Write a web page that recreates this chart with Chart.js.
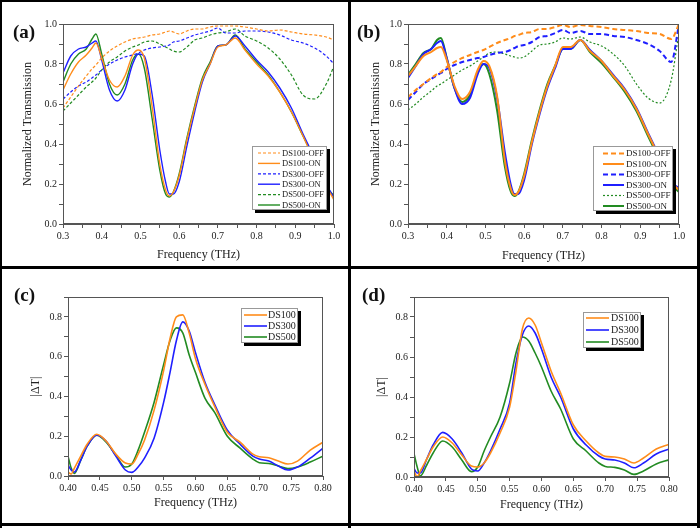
<!DOCTYPE html>
<html>
<head>
<meta charset="utf-8">
<script src="https://cdn.jsdelivr.net/npm/chart.js@4"></script>
<style>
  body { margin: 0; background: #fff; }
  #fig { position: relative; width: 700px; height: 528px; overflow: hidden; font-family: "Liberation Serif", serif; }
  #fig canvas { position: absolute; }
  .tag { position: absolute; font-weight: bold; font-size: 19px; line-height: 1; color: #111; }
  .rule { position: absolute; background: #000; z-index: 5; }
</style>
</head>
<body>
<div id="fig">
  <canvas id="cA" width="350" height="264" style="left:0;top:0"></canvas>
  <canvas id="cB" width="350" height="264" style="left:350px;top:0"></canvas>
  <canvas id="cC" width="350" height="264" style="left:0;top:264px"></canvas>
  <canvas id="cD" width="350" height="264" style="left:350px;top:264px"></canvas>
  <div class="tag" style="left:13px;top:22px">(a)</div>
  <div class="tag" style="left:357px;top:22px">(b)</div>
  <div class="tag" style="left:14px;top:285px">(c)</div>
  <div class="tag" style="left:362px;top:285px">(d)</div>
  <div class="rule" style="left:0;top:0;width:700px;height:2px"></div>
  <div class="rule" style="left:0;top:0;width:2px;height:528px"></div>
  <div class="rule" style="left:697px;top:0;width:3px;height:528px"></div>
  <div class="rule" style="left:0;top:523px;width:700px;height:3px"></div>
  <div class="rule" style="left:348px;top:0;width:3px;height:528px"></div>
  <div class="rule" style="left:0;top:266px;width:700px;height:3px"></div>
</div>
<script>
// 周波数 (THz) : (a)(b) 共通
const freqAB = [0.30, 0.32, 0.34, 0.36, 0.375, 0.385, 0.40, 0.42, 0.44, 0.46, 0.48, 0.495, 0.51, 0.53, 0.55, 0.565, 0.575, 0.585,
  0.60, 0.62, 0.64, 0.66, 0.68, 0.70, 0.72, 0.745, 0.77, 0.80, 0.83, 0.86, 0.89, 0.92, 0.95, 0.98, 1.00];

// (a) 透過率
const a_ds100_off = [0.58, 0.635, 0.69, 0.74, 0.775, 0.795, 0.83, 0.865, 0.89, 0.91, 0.925, 0.93, 0.935, 0.945, 0.95, 0.96, 0.965, 0.96,
  0.95, 0.965, 0.975, 0.975, 0.985, 0.99, 0.99, 0.99, 0.985, 0.975, 0.965, 0.97, 0.96, 0.95, 0.945, 0.935, 0.92];
const a_ds100_on = [0.67, 0.75, 0.81, 0.845, 0.88, 0.905, 0.83, 0.72, 0.685, 0.74, 0.845, 0.87, 0.83, 0.59, 0.30, 0.17, 0.14, 0.16,
  0.24, 0.42, 0.58, 0.72, 0.80, 0.885, 0.895, 0.93, 0.87, 0.80, 0.74, 0.66, 0.56, 0.44, 0.31, 0.19, 0.12];
const a_ds300_off = [0.625, 0.66, 0.69, 0.71, 0.73, 0.745, 0.77, 0.80, 0.82, 0.835, 0.845, 0.855, 0.87, 0.88, 0.885, 0.89, 0.895, 0.91,
  0.915, 0.93, 0.945, 0.955, 0.965, 0.98, 0.955, 0.955, 0.965, 0.965, 0.96, 0.945, 0.92, 0.905, 0.88, 0.84, 0.80];
const a_ds300_on = [0.755, 0.84, 0.875, 0.885, 0.905, 0.915, 0.82, 0.67, 0.615, 0.67, 0.80, 0.85, 0.84, 0.65, 0.37, 0.21, 0.15, 0.15,
  0.21, 0.39, 0.56, 0.71, 0.80, 0.89, 0.895, 0.94, 0.89, 0.82, 0.76, 0.68, 0.58, 0.45, 0.33, 0.20, 0.13];
const a_ds500_off = [0.565, 0.605, 0.645, 0.685, 0.71, 0.73, 0.77, 0.81, 0.835, 0.865, 0.885, 0.895, 0.91, 0.915, 0.90, 0.885, 0.875, 0.865,
  0.86, 0.885, 0.92, 0.93, 0.945, 0.955, 0.96, 0.975, 0.94, 0.915, 0.88, 0.825, 0.745, 0.645, 0.625, 0.70, 0.79];
const a_ds500_on = [0.71, 0.80, 0.85, 0.875, 0.925, 0.95, 0.85, 0.70, 0.645, 0.70, 0.82, 0.85, 0.78, 0.53, 0.27, 0.15, 0.135, 0.16,
  0.25, 0.43, 0.59, 0.73, 0.81, 0.89, 0.895, 0.945, 0.875, 0.81, 0.745, 0.66, 0.56, 0.44, 0.32, 0.19, 0.14];

// (b) 透過率
const b_ds100_off = [0.635, 0.67, 0.70, 0.73, 0.75, 0.76, 0.785, 0.81, 0.83, 0.845, 0.86, 0.87, 0.885, 0.905, 0.92, 0.93, 0.94, 0.945,
  0.955, 0.96, 0.975, 0.975, 0.985, 0.995, 0.985, 0.995, 0.99, 0.985, 0.975, 0.97, 0.965, 0.955, 0.95, 0.925, 1.0];
const b_ds100_on = [0.74, 0.79, 0.84, 0.86, 0.88, 0.885, 0.82, 0.69, 0.625, 0.66, 0.77, 0.815, 0.79, 0.64, 0.32, 0.18, 0.145, 0.16,
  0.24, 0.41, 0.56, 0.69, 0.79, 0.885, 0.885, 0.92, 0.865, 0.815, 0.74, 0.67, 0.575, 0.45, 0.33, 0.21, 0.17];
const b_ds300_off = [0.62, 0.66, 0.70, 0.725, 0.745, 0.755, 0.775, 0.795, 0.81, 0.82, 0.83, 0.835, 0.845, 0.855, 0.86, 0.87, 0.88, 0.89,
  0.895, 0.91, 0.935, 0.94, 0.955, 0.97, 0.955, 0.965, 0.95, 0.95, 0.94, 0.935, 0.92, 0.90, 0.865, 0.81, 1.0];
const b_ds300_on = [0.73, 0.79, 0.85, 0.875, 0.905, 0.915, 0.83, 0.68, 0.60, 0.63, 0.75, 0.80, 0.78, 0.63, 0.36, 0.20, 0.15, 0.15,
  0.22, 0.40, 0.55, 0.68, 0.78, 0.875, 0.875, 0.92, 0.87, 0.815, 0.745, 0.675, 0.58, 0.455, 0.335, 0.21, 0.18];
const b_ds500_off = [0.57, 0.60, 0.635, 0.665, 0.69, 0.70, 0.72, 0.745, 0.77, 0.79, 0.815, 0.835, 0.855, 0.86, 0.85, 0.84, 0.835, 0.83,
  0.835, 0.865, 0.895, 0.90, 0.91, 0.93, 0.925, 0.935, 0.91, 0.89, 0.85, 0.79, 0.70, 0.63, 0.605, 0.72, 0.96];
const b_ds500_on = [0.745, 0.80, 0.855, 0.875, 0.92, 0.93, 0.83, 0.68, 0.61, 0.645, 0.76, 0.80, 0.75, 0.57, 0.29, 0.165, 0.14, 0.16,
  0.25, 0.42, 0.57, 0.70, 0.79, 0.875, 0.875, 0.92, 0.86, 0.805, 0.735, 0.66, 0.565, 0.44, 0.32, 0.20, 0.16];

// 周波数 (THz) : (c)(d) 共通
const freqCD = [0.40, 0.405, 0.41, 0.42, 0.43, 0.445, 0.46, 0.475, 0.49, 0.50, 0.51, 0.52, 0.535, 0.55, 0.56, 0.57, 0.58, 0.59,
  0.60, 0.615, 0.63, 0.65, 0.67, 0.69, 0.70, 0.715, 0.73, 0.745, 0.76, 0.78, 0.80];

// (c) |ΔT|
const c_ds100 = [0.02, 0.01, 0.04, 0.10, 0.16, 0.21, 0.175, 0.11, 0.065, 0.06, 0.11, 0.18, 0.33, 0.53, 0.69, 0.80, 0.81, 0.72,
  0.59, 0.46, 0.35, 0.22, 0.17, 0.11, 0.097, 0.092, 0.075, 0.06, 0.075, 0.13, 0.17];
const c_ds300 = [0.055, 0.03, 0.02, 0.08, 0.15, 0.205, 0.175, 0.10, 0.03, 0.018, 0.045, 0.09, 0.19, 0.37, 0.52, 0.68, 0.775, 0.73,
  0.62, 0.47, 0.36, 0.23, 0.16, 0.10, 0.085, 0.075, 0.05, 0.03, 0.045, 0.09, 0.14];
const c_ds500 = [0.10, 0.04, 0.013, 0.08, 0.15, 0.205, 0.17, 0.105, 0.045, 0.06, 0.13, 0.22, 0.37, 0.56, 0.68, 0.745, 0.72, 0.61,
  0.52, 0.39, 0.32, 0.20, 0.14, 0.085, 0.067, 0.063, 0.05, 0.037, 0.045, 0.07, 0.10];

// (d) |ΔT|
const d_ds100 = [0.027, 0.002, 0.03, 0.09, 0.15, 0.20, 0.17, 0.11, 0.055, 0.05, 0.07, 0.12, 0.22, 0.35, 0.53, 0.74, 0.795, 0.76,
  0.67, 0.53, 0.42, 0.26, 0.18, 0.12, 0.103, 0.10, 0.09, 0.07, 0.095, 0.14, 0.163];
const d_ds300 = [0.043, 0.02, 0.02, 0.09, 0.16, 0.223, 0.19, 0.12, 0.04, 0.03, 0.07, 0.13, 0.24, 0.37, 0.57, 0.71, 0.755, 0.72,
  0.64, 0.50, 0.40, 0.24, 0.16, 0.105, 0.09, 0.085, 0.07, 0.046, 0.07, 0.115, 0.14];
const d_ds500 = [0.118, 0.05, 0.006, 0.06, 0.12, 0.18, 0.15, 0.085, 0.027, 0.05, 0.13, 0.20, 0.30, 0.47, 0.62, 0.70, 0.68, 0.62,
  0.55, 0.43, 0.34, 0.19, 0.13, 0.07, 0.053, 0.048, 0.035, 0.013, 0.03, 0.065, 0.086];

const ORANGE = '#ff8c1a';
const BLUE = '#1f1fff';
const GREEN = '#228b22';

Chart.defaults.font.family = '"Liberation Serif", "Times New Roman", serif';
Chart.defaults.color = '#222';

// 枠線とプロット内の凡例（影付き）
const frameLegend = {
  id: 'frameLegend',
  afterDraw(chart, args, o) {
    const { ctx, chartArea: a } = chart;
    ctx.save();
    ctx.strokeStyle = '#555';
    ctx.lineWidth = 1;
    ctx.strokeRect(a.left + 0.5, a.top + 0.5, a.right - a.left - 1, a.bottom - a.top - 1);

    const bx = a.right - o.right - o.width;
    const by = o.top != null ? a.top + o.top : a.bottom - o.bottom - o.height;
    ctx.fillStyle = '#000';
    ctx.fillRect(bx + 3, by + 3, o.width, o.height);
    ctx.fillStyle = '#fff';
    ctx.fillRect(bx, by, o.width, o.height);
    ctx.strokeStyle = '#999';
    ctx.strokeRect(bx + 0.5, by + 0.5, o.width - 1, o.height - 1);
    ctx.font = o.fontSize + 'px "Liberation Serif"';
    ctx.textBaseline = 'middle';
    chart.data.datasets.forEach((ds, i) => {
      const yy = by + o.firstRow + i * o.rowGap;
      ctx.beginPath();
      ctx.setLineDash(ds.borderDash || []);
      ctx.strokeStyle = ds.borderColor;
      ctx.lineWidth = ds.borderWidth;
      ctx.moveTo(bx + o.lineFrom, yy);
      ctx.lineTo(bx + o.lineTo, yy);
      ctx.stroke();
      ctx.setLineDash([]);
      ctx.fillStyle = '#222';
      ctx.fillText(ds.label, bx + o.textX, yy + 0.5);
    });
    ctx.restore();
  }
};
Chart.register(frameLegend);

function series(label, freq, vals, color, width, dash) {
  return {
    label: label,
    data: freq.map((f, i) => ({ x: f, y: vals[i] })),
    borderColor: color,
    borderWidth: width,
    borderDash: dash || [],
    pointRadius: 0,
    fill: false,
    cubicInterpolationMode: 'monotone'
  };
}

function axisGrid() {
  return { display: true, drawOnChartArea: false, drawTicks: true, tickLength: 4, color: '#555' };
}

/**
 * 1パネル分のグラフを描画する
 */
function renderPanel(canvasId, datasets, p) {
  const ctx = document.getElementById(canvasId).getContext('2d');
  return new Chart(ctx, {
    type: 'line',
    data: { datasets: datasets },
    options: {
      responsive: false,
      animation: false,
      layout: { padding: { left: 0, top: p.top, right: p.right, bottom: 0 } },
      plugins: {
        legend: { display: false },
        tooltip: { enabled: false },
        frameLegend: p.legend
      },
      scales: {
        x: {
          type: 'linear',
          min: p.xmin, max: p.xmax,
          grid: axisGrid(),
          border: { display: true, color: '#555' },
          ticks: {
            stepSize: p.xstep, autoSkip: false, maxRotation: 0, padding: 2,
            font: { size: 10 },
            callback: (v, i) => (i % p.xevery === 0 ? v.toFixed(p.xdec) : '')
          },
          title: { display: true, text: 'Frequency (THz)', font: { size: 12 }, padding: { top: 0, bottom: p.xtitlePad } },
          afterFit: (s) => { s.height = p.xh; }
        },
        y: {
          min: p.ymin, max: p.ymax,
          grid: axisGrid(),
          border: { display: true, color: '#555' },
          ticks: {
            stepSize: 0.1, autoSkip: false, padding: 2,
            font: { size: 10 },
            callback: (v, i) => (i % 2 === 0 ? v.toFixed(1) : '')
          },
          title: { display: true, text: p.ytitle, font: { size: 12 }, padding: { top: p.ytitlePad, bottom: 0 } },
          afterFit: (s) => { s.width = p.yw; }
        }
      }
    }
  });
}

const dashA = [3, 2];

renderPanel('cA', [
  series('DS100-OFF', freqAB, a_ds100_off, ORANGE, 1.2, dashA),
  series('DS100-ON', freqAB, a_ds100_on, ORANGE, 1.4),
  series('DS300-OFF', freqAB, a_ds300_off, BLUE, 1.2, dashA),
  series('DS300-ON', freqAB, a_ds300_on, BLUE, 1.4),
  series('DS500-OFF', freqAB, a_ds500_off, GREEN, 1.2, dashA),
  series('DS500-ON', freqAB, a_ds500_on, GREEN, 1.4)
], {
  top: 24, right: 16, yw: 63, xh: 40, xtitlePad: 2, ytitlePad: 21,
  xmin: 0.3, xmax: 1.0, xstep: 0.05, xevery: 2, xdec: 1, ymin: 0, ymax: 1.0,
  ytitle: 'Normalized Transmission',
  legend: { right: 7, bottom: 14, width: 75, height: 64, firstRow: 7, rowGap: 10.4, lineFrom: 6, lineTo: 28, textX: 30, fontSize: 8.5 }
});

renderPanel('cB', [
  series('DS100-OFF', freqAB, b_ds100_off, ORANGE, 2, [5, 3]),
  series('DS100-ON', freqAB, b_ds100_on, ORANGE, 2),
  series('DS300-OFF', freqAB, b_ds300_off, BLUE, 2, [5, 3]),
  series('DS300-ON', freqAB, b_ds300_on, BLUE, 2),
  series('DS500-OFF', freqAB, b_ds500_off, GREEN, 1.2, [2, 2]),
  series('DS500-ON', freqAB, b_ds500_on, GREEN, 2)
], {
  top: 24, right: 21, yw: 58, xh: 40, xtitlePad: 1, ytitlePad: 19,
  xmin: 0.3, xmax: 1.0, xstep: 0.05, xevery: 2, xdec: 1, ymin: 0, ymax: 1.0,
  ytitle: 'Normalized Transmission',
  legend: { right: 6, bottom: 13, width: 80, height: 65, firstRow: 7.5, rowGap: 10.5, lineFrom: 10, lineTo: 31, textX: 33, fontSize: 9 }
});

renderPanel('cC', [
  series('DS100', freqCD, c_ds100, ORANGE, 1.6),
  series('DS300', freqCD, c_ds300, BLUE, 1.6),
  series('DS500', freqCD, c_ds500, GREEN, 1.6)
], {
  top: 33, right: 27, yw: 68, xh: 52, xtitlePad: 18, ytitlePad: 29,
  xmin: 0.4, xmax: 0.8, xstep: 0.05, xevery: 1, xdec: 2, ymin: 0, ymax: 0.9,
  ytitle: '|ΔT|',
  legend: { top: 11, right: 25, width: 57, height: 35, firstRow: 7, rowGap: 11, lineFrom: 3, lineTo: 26, textX: 27, fontSize: 10 }
});

renderPanel('cD', [
  series('DS100', freqCD, d_ds100, ORANGE, 1.6),
  series('DS300', freqCD, d_ds300, BLUE, 1.6),
  series('DS500', freqCD, d_ds500, GREEN, 1.6)
], {
  top: 33, right: 31, yw: 64, xh: 51, xtitlePad: 16, ytitlePad: 25,
  xmin: 0.4, xmax: 0.8, xstep: 0.05, xevery: 1, xdec: 2, ymin: 0, ymax: 0.9,
  ytitle: '|ΔT|',
  legend: { top: 15, right: 28, width: 58, height: 36, firstRow: 6, rowGap: 12, lineFrom: 3, lineTo: 26, textX: 28, fontSize: 10 }
});
</script>
</body>
</html>
